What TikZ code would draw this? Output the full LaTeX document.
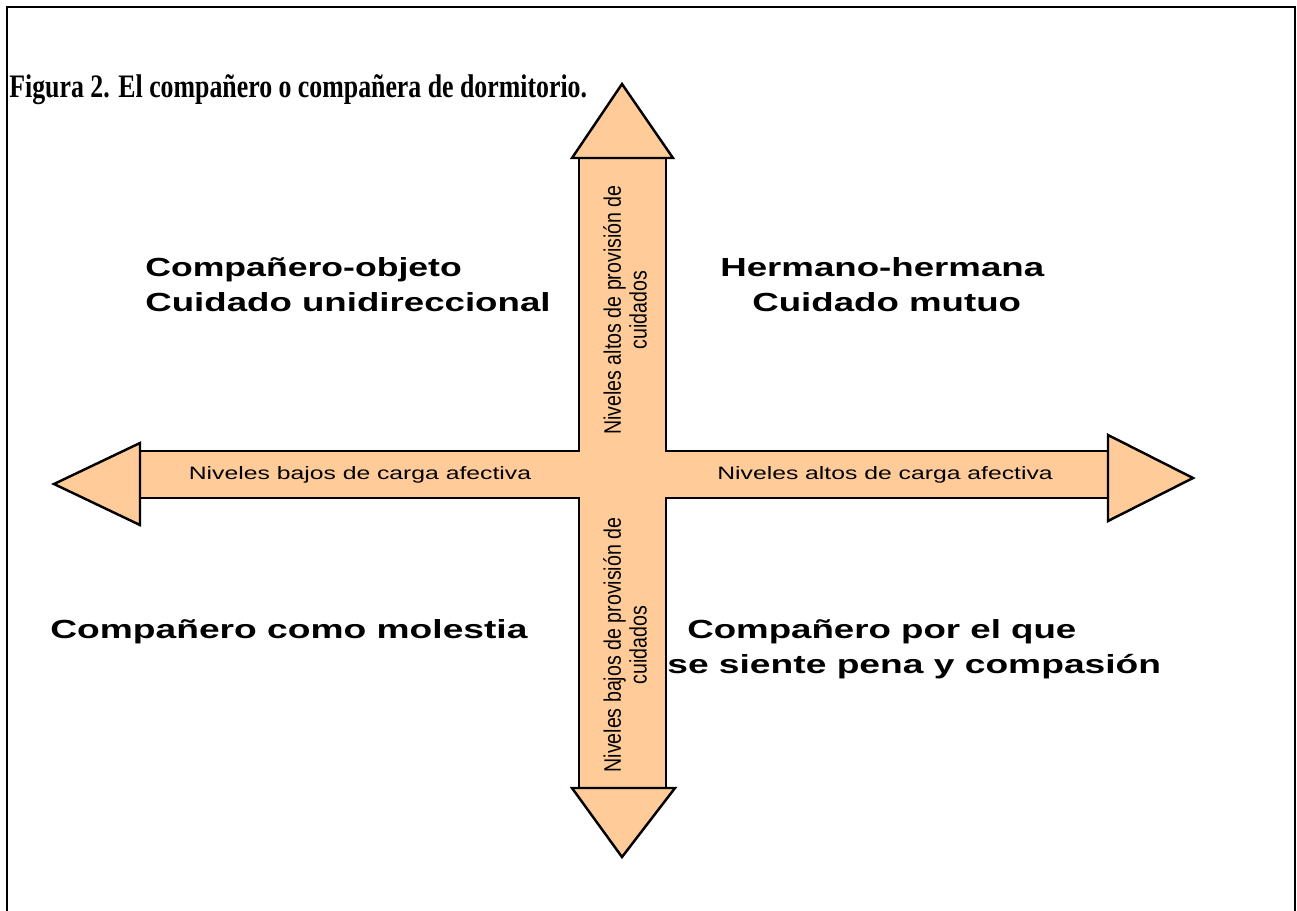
\documentclass[tikz,border=0pt]{standalone}
\usepackage{fontspec}
\setmainfont{Liberation Serif}
\setsansfont{Liberation Sans}
\usepackage{graphicx}
\definecolor{peach}{RGB}{255,204,153}
\newcommand{\wide}[2][1.4]{\scalebox{#1}[1]{#2}}

\begin{document}
\begin{tikzpicture}[x=0.02cm,y=-0.02cm,
    bar/.style={line width=1.4pt,line join=miter},
    head/.style={line width=1.4pt,fill=peach,line join=miter},
    quad/.style={anchor=base west,inner sep=0pt,
      font=\sffamily\bfseries\fontsize{14.9}{17}\selectfont},
    axis/.style={inner sep=0pt,font=\sffamily\fontsize{10.2}{12}\selectfont},
    vaxis/.style={inner sep=0pt,rotate=90,align=center,
      font=\sffamily\fontsize{13.6}{14.7}\selectfont}]
    \useasboundingbox (0,0) rectangle (1297,910);
    % marco
    \draw[line width=1.1pt] (7,920) -- (7,7) -- (1295,7) -- (1295,920);
    \node (titulo) at (9,97) [anchor=base west,inner sep=0pt,
      font=\bfseries\fontsize{14.7}{17}\selectfont]
      {\scalebox{1}[1.27]{Figura 2. El compañero o compañera de dormitorio.}};
    % cruz
    \coordinate (o) at (622,474) ;
    \fill[peach] (579,158) -- (579,451) -- (140,451) -- (140,498) -- (579,498)
      -- (579,788) -- (666,788) -- (666,498) -- (1108,498) -- (1108,451)
      -- (666,451) -- (666,158) -- cycle;
    \draw[bar] (579,158) -- (579,451) -- (140,451) ;
    \draw[bar] (140,498) -- (579,498) -- (579,788) ;
    \draw[bar] (666,788) -- (666,498) -- (1108,498) ;
    \draw[bar] (1108,451) -- (666,451) -- (666,158) ;
    \draw[head] (572,158) -- (622,84) -- (673,158) -- cycle;
    \draw[head] (572,788) -- (622,857) -- (675,788) -- cycle;
    \draw[head] (140,443) -- (54,484) -- (140,525) -- cycle;
    \draw[head] (1108,435) -- (1193,478) -- (1108,521) -- cycle;
    % ejes
    \node (bajosc) at (360,475) [axis] {\wide[1.38]{Niveles bajos de carga afectiva}};
    \node (altosc) at (885,475) [axis] {\wide[1.38]{Niveles altos de carga afectiva}};
    \node (altosp) at (625,310) [vaxis]
      {\wide[0.82]{Niveles altos de provisión de}\\\wide[0.82]{cuidados}};
    \node (bajosp) at (625,645) [vaxis]
      {\wide[0.82]{Niveles bajos de provisión de}\\\wide[0.82]{cuidados}};
    % cuadrantes
    \node (objeto) at (145,276) [quad] {\wide[1.36]{Compañero-objeto}};
    \node (unidir) at (145,311) [quad] {\wide{Cuidado unidireccional}};
    \node (herm) at (720,276) [quad] {\wide{Hermano-hermana}};
    \node (mutuo) at (752,311) [quad] {\wide{Cuidado mutuo}};
    \node (molestia) at (50,638) [quad] {\wide[1.42]{Compañero como molestia}};
    \node (pena) at (687,638) [quad] {\wide{Compañero por el que}};
    \node (compas) at (667,673) [quad] {\wide[1.42]{se siente pena y compasión}};
\end{tikzpicture}
\end{document}
